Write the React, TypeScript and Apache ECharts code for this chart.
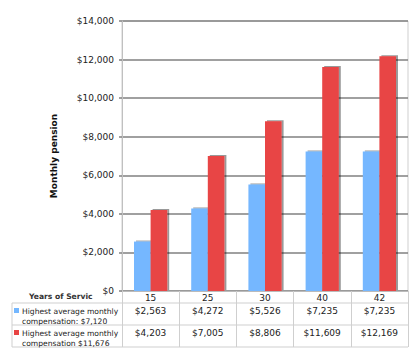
import React, { useEffect, useRef } from "react";
import * as echarts from "echarts";

const years = ["15", "25", "30", "40", "42"];
const seriesNames = [
  "Highest average monthly\ncompensation: $7,120",
  "Highest average monthly\ncompensation $11,676",
];
const lowComp = [2563, 4272, 5526, 7235, 7235];
const highComp = [4203, 7005, 8806, 11609, 12169];
const colors = ["#74B7FF", "#E84444"];
const yMax = 14000;
const yInterval = 2000;
const rowHeader = "Years of Service";

const fmt = (v: number) => "$" + v.toLocaleString("en-US");

export default function App() {
  const ref = useRef<HTMLDivElement>(null);
  useEffect(() => {
    if (!ref.current) return;
    const chart = echarts.init(ref.current, null, { renderer: "svg" });
    const font = "DejaVu Sans";
    const gl = 122, gt = 21, gw = 286, gh = 270;
    const lineColor = "#cfcfcf";
    const tableLines: any[] = [303, 325, 347].map((y) => ({
      type: "line",
      shape: { x1: 12, y1: y, x2: gl + gw, y2: y },
      style: { stroke: lineColor, lineWidth: 1 },
    }));
    tableLines.push({
      type: "line",
      shape: { x1: 12, y1: 303, x2: 12, y2: 347 },
      style: { stroke: lineColor, lineWidth: 1 },
    });
    const legendItems: any[] = [];
    seriesNames.forEach((name, i) => {
      const top = 303 + i * 22;
      legendItems.push({
        type: "rect",
        shape: { x: 14, y: top + 5, width: 5, height: 5 },
        style: { fill: colors[i] },
      });
      legendItems.push({
        type: "text",
        x: 22,
        y: top + 3,
        style: {
          text: name,
          font: `7.6px "${font}"`,
          fill: "#222",
          lineHeight: 10,
          textVerticalAlign: "top",
        },
      });
    });
    const mkValueAxis = (vals: number[], offset: number) => ({
      type: "category",
      data: vals.map(fmt),
      position: "bottom",
      offset,
      gridIndex: 0,
      axisLine: { show: false },
      axisTick: { show: false },
      axisLabel: {
        margin: 3,
        fontFamily: font,
        fontSize: 9,
        color: "#222",
      },
    });
    chart.setOption({
      animation: false,
      grid: {
        left: gl,
        top: gt,
        width: gw,
        height: gh,
        show: true,
        borderColor: lineColor,
        borderWidth: 1,
      },
      xAxis: [
        {
          type: "category",
          data: years,
          axisLine: { lineStyle: { color: "#bbb" } },
          axisTick: { show: true, length: 56, lineStyle: { color: lineColor } },
          axisLabel: { margin: 2, fontFamily: font, fontSize: 9, color: "#222" },
        },
        mkValueAxis(lowComp, 12),
        mkValueAxis(highComp, 34),
      ],
      yAxis: {
        type: "value",
        min: 0,
        max: yMax,
        interval: yInterval,
        name: "Monthly pension",
        nameLocation: "middle",
        nameRotate: 90,
        nameGap: 64,
        nameTextStyle: { fontFamily: font, fontSize: 9, fontWeight: "bold", color: "#111" },
        axisLine: { show: true, lineStyle: { color: "#c0c0c0" } },
        axisTick: { show: true, length: 3, lineStyle: { color: "#808080", width: 1.5 } },
        splitLine: { lineStyle: { color: "#808080", width: 1.5 } },
        axisLabel: {
          margin: 8,
          fontFamily: font,
          fontSize: 9,
          color: "#222",
          formatter: (v: number) => fmt(v),
        },
      },
      series: [lowComp, highComp].map((d, i) => ({
        type: "bar",
        name: seriesNames[i],
        data: d,
        xAxisIndex: 0,
        barCategoryGap: "42%",
        barGap: "0%",
        itemStyle: {
          color: colors[i],
          shadowColor: "rgba(0,0,0,0.4)",
          shadowOffsetX: 2,
          shadowOffsetY: -1,
          shadowBlur: 1,
        },
      })),
      graphic: [
        ...tableLines,
        ...legendItems,
        {
          type: "text",
          x: 29,
          y: 296,
          style: {
            text: rowHeader,
            font: `bold 7.6px "${font}"`,
            fill: "#333",
            width: 69,
            overflow: "truncate",
            ellipsis: "",
            textVerticalAlign: "middle",
          },
        },
      ],
    });
    return () => chart.dispose();
  }, []);
  return (
    <div
      ref={ref}
      style={{ position: "absolute", left: 0, top: 0, width: 420, height: 358 }}
    />
  );
}
